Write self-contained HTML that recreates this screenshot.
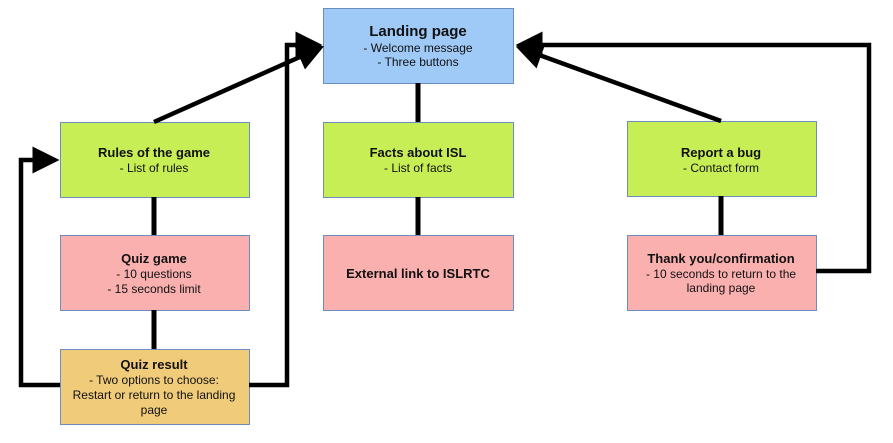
<!DOCTYPE html>
<html><head><meta charset="utf-8"><style>
html,body{margin:0;padding:0;background:#fff;}
svg{display:block;}
text{font-family:"Liberation Sans",Arial,sans-serif;font-size:12px;fill:#111;}
.b{font-weight:bold;font-size:13px;}
</style></head><body>
<svg width="893" height="443" viewBox="0 0 893 443" xmlns="http://www.w3.org/2000/svg">
<defs>
<marker id="ah" markerWidth="6" markerHeight="6" refX="5" refY="3" orient="auto" markerUnits="strokeWidth">
<path d="M0,0 L6,3 L0,6 z" fill="#000"/>
</marker>
</defs>
<g stroke="#6c8ebf" stroke-width="1">
<rect x="323.5" y="8.5" width="190" height="75" fill="#9fcaf7"/>
<rect x="60.5" y="122.5" width="189" height="75" fill="#c8ee55"/>
<rect x="323.5" y="122.5" width="190" height="75" fill="#c8ee55"/>
<rect x="627.5" y="121.5" width="189" height="75" fill="#c8ee55"/>
<rect x="60.5" y="235.5" width="189" height="75" fill="#fbb0b0"/>
<rect x="323.5" y="235.5" width="190" height="75" fill="#fbb0b0"/>
<rect x="627.5" y="235.5" width="189" height="75" fill="#fbb0b0"/>
<rect x="60.5" y="349.5" width="189" height="75" fill="#f0cb7a"/>
</g>
<g stroke="#000" stroke-width="5" fill="none" stroke-linejoin="miter">
<line x1="418" y1="83" x2="418" y2="122"/>
<line x1="418" y1="197" x2="418" y2="235"/>
<line x1="154" y1="197" x2="154" y2="235"/>
<line x1="154" y1="310" x2="154" y2="349"/>
<line x1="721" y1="196" x2="721" y2="235"/>
<polyline points="154,122 320,48" marker-end="url(#ah)" stroke-width="4.5"/>
<polyline points="249,385 287,385 287,45 318,45" marker-end="url(#ah)" stroke-width="4.5"/>
<polyline points="60,385 21,385 21,160 55,160" marker-end="url(#ah)" stroke-width="4.5"/>
<polyline points="721,121 520,48" marker-end="url(#ah)" stroke-width="4.5"/>
<polyline points="816,271 869,271 869,45 520,45" marker-end="url(#ah)" stroke-width="4.5"/>
</g>
<g text-anchor="middle">
<text x="418" y="36" class="b" style="font-size:15px">Landing page</text>
<text x="418" y="52">- Welcome message</text>
<text x="418" y="66">- Three buttons</text>
<text x="154" y="157" class="b">Rules of the game</text>
<text x="154" y="172">- List of rules</text>
<text x="418" y="157" class="b">Facts about ISL</text>
<text x="418" y="172">- List of facts</text>
<text x="721" y="157" class="b">Report a bug</text>
<text x="721" y="172">- Contact form</text>
<text x="154" y="263" class="b">Quiz game</text>
<text x="154" y="278">- 10 questions</text>
<text x="154" y="293">- 15 seconds limit</text>
<text x="418" y="278" class="b">External link to ISLRTC</text>
<text x="721" y="263" class="b">Thank you/confirmation</text>
<text x="721" y="278">- 10 seconds to return to the</text>
<text x="721" y="292">landing page</text>
<text x="154" y="369" class="b">Quiz result</text>
<text x="154" y="384">- Two options to choose:</text>
<text x="154" y="399">Restart or return to the landing</text>
<text x="154" y="414">page</text>
</g>
</svg>
</body></html>
